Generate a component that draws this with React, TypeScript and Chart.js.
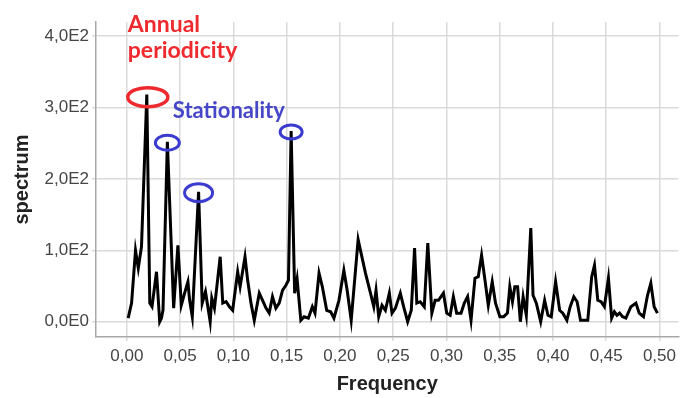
import React, { useEffect, useRef } from "react";
import { Chart, registerables } from "chart.js";

Chart.register(...registerables);

// Frequency (x) and spectrum (y) values
const frequency = [
  0.0012, 0.0044, 0.0081, 0.0107, 0.0137, 0.0187, 0.0215, 0.0236, 0.0278, 0.0308,
  0.0324, 0.0339, 0.038, 0.0439, 0.0479, 0.0511, 0.0542, 0.0573, 0.0589, 0.0614,
  0.0673, 0.0707, 0.0738, 0.076, 0.0782, 0.0797, 0.0822, 0.0876, 0.09, 0.0932,
  0.0963, 0.0993, 0.104, 0.1063, 0.1109, 0.1134, 0.1165, 0.1196, 0.1243, 0.1274,
  0.1306, 0.1336, 0.1367, 0.1399, 0.143, 0.1461, 0.1493, 0.1517, 0.1542, 0.1575,
  0.1598, 0.1633, 0.1664, 0.1704, 0.1741, 0.1766, 0.1804, 0.1835, 0.1876, 0.1913,
  0.1944, 0.1991, 0.2037, 0.2068, 0.2106, 0.2171, 0.2193, 0.224, 0.2287, 0.2318,
  0.2339, 0.2364, 0.2395, 0.2427, 0.2464, 0.2489, 0.2521, 0.2567, 0.2598, 0.2636,
  0.267, 0.2701, 0.2722, 0.2754, 0.2792, 0.2825, 0.2863, 0.2894, 0.2925, 0.2972,
  0.3003, 0.3035, 0.3065, 0.3096, 0.3137, 0.3168, 0.3199, 0.3231, 0.3268, 0.3299,
  0.333, 0.3362, 0.3393, 0.343, 0.3461, 0.3502, 0.3537, 0.3573, 0.3595, 0.362,
  0.3642, 0.3668, 0.3694, 0.372, 0.375, 0.3792, 0.3813, 0.3844, 0.3885, 0.3922,
  0.3953, 0.3984, 0.4025, 0.4063, 0.4093, 0.4131, 0.4162, 0.4196, 0.4227, 0.4259,
  0.4296, 0.4327, 0.4364, 0.439, 0.4421, 0.4452, 0.4483, 0.4521, 0.4551, 0.4577,
  0.4601, 0.4626, 0.4654, 0.4685, 0.4732, 0.4779, 0.481, 0.485, 0.4888, 0.4919,
  0.495, 0.4981,
];

const spectrum = [
  5, 26, 100, 75, 105, 318, 26, 21, 70, 0,
  5, 16, 252, 19, 107, 23, 40, 56, 30, 7,
  182, 26, 42, 21, 0, 33, 19, 91, 26, 28,
  21, 16, 70, 49, 91, 58, 26, 2, 40, 30,
  19, 12, 35, 19, 26, 44, 51, 58, 267, 40,
  60, 2, 7, 5, 21, 12, 68, 49, 16, 14,
  5, 30, 72, 44, 2, 115, 100, 68, 40, 21,
  44, 7, 23, 16, 40, 12, 19, 40, 21, 0,
  16, 103, 26, 28, 21, 110, 12, 30, 30, 40,
  12, 9, 35, 12, 12, 26, 35, 2, 61, 63,
  93, 58, 23, 56, 26, 7, 7, 12, 49, 28,
  49, 49, 0, 35, 9, 131, 37, 26, 0, 30,
  9, 7, 56, 16, 12, 2, 21, 35, 28, 2,
  2, 2, 63, 79, 30, 28, 21, 61, 5, 14,
  9, 12, 7, 5, 21, 26, 12, 7, 37, 54,
  21, 12,
];

const xTickValues = [0, 0.05, 0.1, 0.15, 0.2, 0.25, 0.3, 0.35, 0.4, 0.45, 0.5];
const xTickLabels = ["0,00", "0,05", "0,10", "0,15", "0,20", "0,25", "0,30", "0,35", "0,40", "0,45", "0,50"];
const yTickValues = [0, 100, 200, 300, 400];
const yTickLabels = ["0,0E0", "1,0E2", "2,0E2", "3,0E2", "4,0E2"];

const annualPeakFreq = 0.0187;
const stationalityPeakFreqs = [0.038, 0.0673, 0.1542];
const annualText = ["Annual", "periodicity"];
const stationalityText = "Stationality";

function labelFor(values: number[], labels: string[], v: number) {
  const i = values.findIndex((t) => Math.abs(t - v) < 1e-9);
  return i >= 0 ? labels[i] : "";
}

const annotationPlugin = {
  id: "peakAnnotations",
  afterDatasetsDraw(chart: any) {
    const ctx = chart.ctx;
    const xs = chart.scales.x;
    const ys = chart.scales.y;
    const pt = (f: number) => {
      const i = frequency.findIndex((v) => Math.abs(v - f) < 1e-9);
      return { x: xs.getPixelForValue(frequency[i]), y: ys.getPixelForValue(spectrum[i]) };
    };
    ctx.save();
    // red ellipse around the annual peak
    const a = pt(annualPeakFreq);
    ctx.strokeStyle = "#ee2a2e";
    ctx.lineWidth = 3.5;
    ctx.beginPath();
    ctx.ellipse(a.x + 1, a.y + 2.5, 20, 9.5, 0, 0, Math.PI * 2);
    ctx.stroke();
    // blue ellipses
    const sizes = [
      [12, 7.5],
      [14, 9],
      [11, 7],
    ];
    ctx.strokeStyle = "#3b3bd0";
    ctx.lineWidth = 3;
    stationalityPeakFreqs.forEach((f, k) => {
      const p = pt(f);
      ctx.beginPath();
      ctx.ellipse(p.x, p.y + 1, sizes[k][0], sizes[k][1], 0, 0, Math.PI * 2);
      ctx.stroke();
    });
    // texts
    ctx.textAlign = "left";
    ctx.textBaseline = "alphabetic";
    ctx.fillStyle = "#ee2a2e";
    ctx.font = "bold 23px Lato, 'Open Sans', sans-serif";
    ctx.fillText(annualText[0], a.x - 19, 32);
    ctx.fillText(annualText[1], a.x - 19, 58);
    ctx.fillStyle = "#4646c8";
    ctx.font = "bold 22px Lato, 'Open Sans', sans-serif";
    ctx.fillText(stationalityText, a.x + 26, 118);
    ctx.restore();
  },
};

export default function App() {
  const ref = useRef<HTMLCanvasElement | null>(null);

  useEffect(() => {
    document.body.style.margin = "0";
    const canvas = ref.current;
    if (!canvas) return;
    const chart = new Chart(canvas, {
      type: "scatter",
      data: {
        datasets: [
          {
            data: frequency.map((f, i) => ({ x: f, y: spectrum[i] })),
            showLine: true,
            borderColor: "#000000",
            borderWidth: 3,
            pointRadius: 0,
            tension: 0,
            fill: false,
          },
        ],
      },
      options: {
        responsive: false,
        animation: false,
        devicePixelRatio: 1,
        layout: { padding: { left: 0, top: 22, right: 0, bottom: 0 } },
        plugins: {
          legend: { display: false },
          tooltip: { enabled: false },
        },
        scales: {
          x: {
            type: "linear",
            min: -0.029,
            max: 0.5178,
            afterBuildTicks: (scale: any) => {
              scale.ticks = xTickValues.map((v) => ({ value: v }));
            },
            afterFit: (scale: any) => {
              scale.height = 61;
            },
            ticks: {
              autoSkip: false,
              maxRotation: 0,
              padding: 5,
              color: "#454545",
              font: { family: "'Liberation Sans', Arial, sans-serif", size: 17 },
              callback: (v: any) => labelFor(xTickValues, xTickLabels, Number(v)),
            },
            grid: { color: "#dadada", lineWidth: 1.5, tickLength: 4 },
            border: { display: true, color: "#a8a8a8", width: 1.5 },
            title: {
              display: true,
              text: "Frequency",
              color: "#222222",
              font: { family: "'Liberation Sans', Arial, sans-serif", size: 20, weight: "bold" },
              padding: { top: 0, bottom: 2 },
            },
          },
          y: {
            type: "linear",
            min: -21.4,
            max: 419.7,
            afterBuildTicks: (scale: any) => {
              scale.ticks = yTickValues.map((v) => ({ value: v }));
            },
            afterFit: (scale: any) => {
              scale.width = 96;
            },
            ticks: {
              padding: 3,
              color: "#454545",
              font: { family: "'Liberation Sans', Arial, sans-serif", size: 17 },
              callback: (v: any) => labelFor(yTickValues, yTickLabels, Number(v)),
            },
            grid: { color: "#dadada", lineWidth: 1.5, tickLength: 4 },
            border: { display: true, color: "#a8a8a8", width: 1.5 },
            title: {
              display: true,
              text: "spectrum",
              color: "#222222",
              font: { family: "'Liberation Sans', Arial, sans-serif", size: 20, weight: "bold" },
              padding: { top: 10, bottom: 0 },
            },
          },
        },
      },
      plugins: [annotationPlugin],
    });
    return () => chart.destroy();
  }, []);

  return (
    <div style={{ position: "fixed", left: 0, top: 0, width: 681, height: 398, background: "#ffffff" }}>
      <canvas ref={ref} width={681} height={398} style={{ width: 681, height: 398, display: "block" }} />
    </div>
  );
}
